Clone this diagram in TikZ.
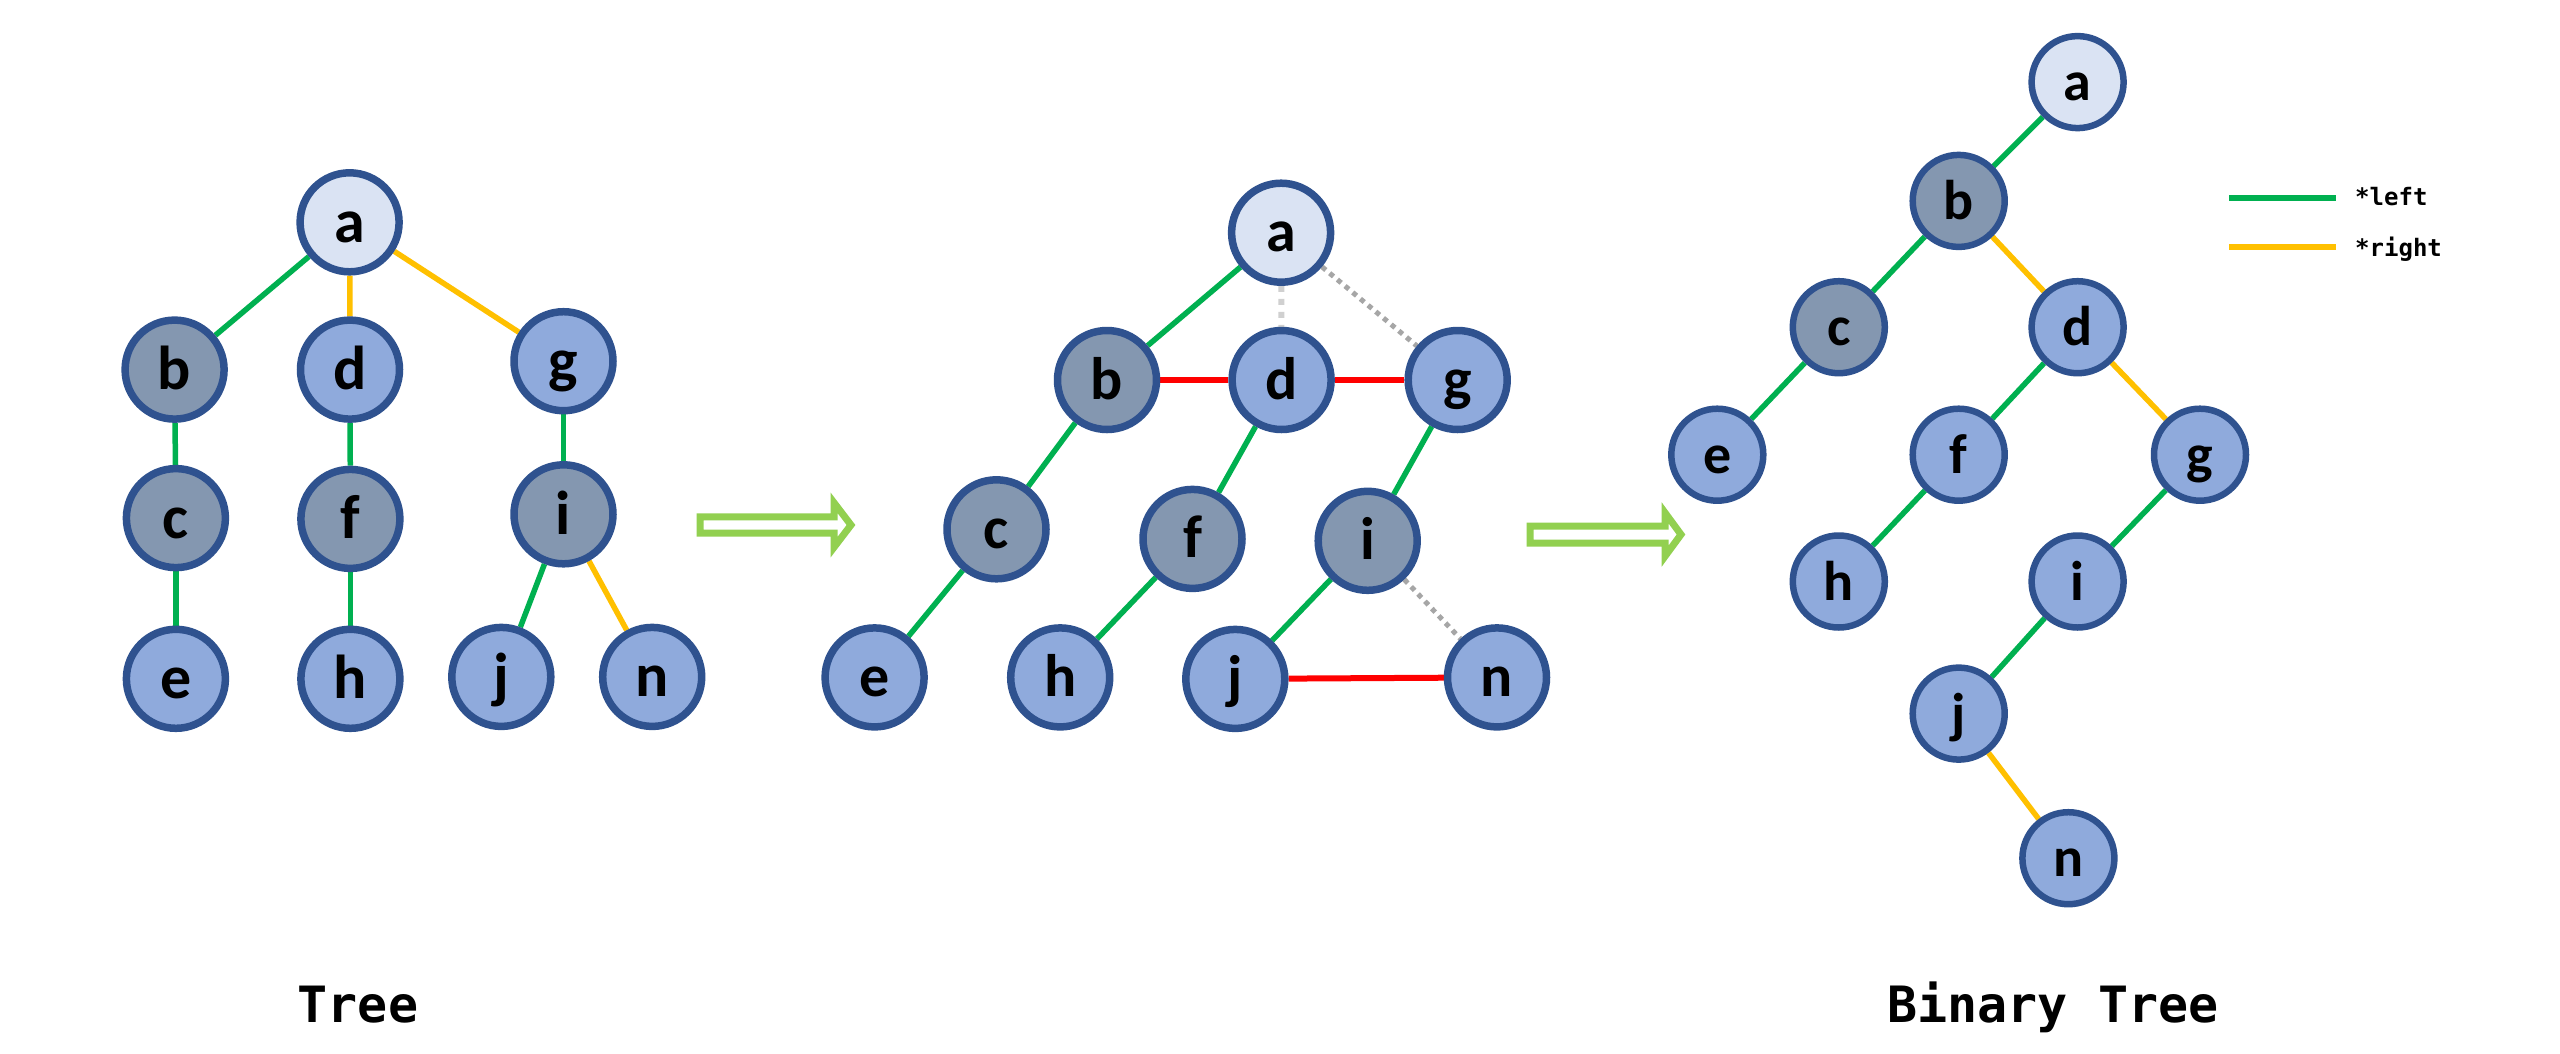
\documentclass[tikz,border=0pt]{standalone}
\usepackage{fontspec}
\newfontfamily\nodefont{Carlito}
\newfontfamily\labfont{DejaVu Sans Mono}
\usetikzlibrary{backgrounds}
\definecolor{bordc}{HTML}{2F528F}
\definecolor{lightc}{HTML}{DAE3F3}
\definecolor{bluec}{HTML}{8FAADC}
\definecolor{greyc}{HTML}{8497B0}
\definecolor{greenc}{HTML}{00B050}
\definecolor{yellowc}{HTML}{FFC000}
\definecolor{redc}{HTML}{FF0000}
\definecolor{arrowc}{HTML}{92D050}
\definecolor{dotc}{HTML}{A6A6A6}
\definecolor{dotlc}{HTML}{D0D0D0}
\tikzset{
  tnode/.style={circle, draw=bordc, line width=7.5pt, minimum size=99pt, inner sep=0pt,
    font=\nodefont\bfseries\fontsize{62}{64}\selectfont, text height=40pt, text depth=0pt},
  mnode/.style={tnode, font=\nodefont\bfseries\fontsize{60}{62}\selectfont, text height=38pt},
  rnode/.style={tnode, line width=6.5pt, minimum size=92pt,
    font=\nodefont\bfseries\fontsize{56}{58}\selectfont, text height=37pt},
  lt/.style={fill=lightc}, bl/.style={fill=bluec}, gr/.style={fill=greyc},
  le/.style={draw=greenc, line width=5.5pt},
  ri/.style={draw=yellowc, line width=5.5pt},
  rd/.style={draw=redc, line width=6pt},
  dt/.style={draw=dotc, line width=5pt, dash pattern=on 5pt off 5pt},
  dtl/.style={draw=dotlc, line width=6pt, dash pattern=on 6pt off 7pt},
  bigarrow/.style={draw=arrowc, fill=white, line width=7pt, line join=miter},
  title/.style={font=\labfont\bfseries\fontsize{50}{56}\selectfont, anchor=base, inner sep=0pt},
  legtext/.style={font=\labfont\bfseries\fontsize{24}{28}\selectfont, anchor=base west, inner sep=0pt}
}
\begin{document}
\begin{tikzpicture}[x=1pt,y=-1pt]
\useasboundingbox (0,0) rectangle (2560,1053);
% ---------- Tree ----------
\node[tnode,lt] (Aa) at (349.6,222.3) {a};
\node[tnode,gr] (Ab) at (174.6,369.6) {b};
\node[tnode,bl] (Ad) at (350,369.6) {d};
\node[tnode,bl] (Ag) at (563.5,361.2) {g};
\node[tnode,gr] (Ac) at (175.9,518.1) {c};
\node[tnode,gr] (Af) at (350.4,518.9) {f};
\node[tnode,gr] (Ai) at (563.5,514.3) {i};
\node[tnode,bl] (Ae) at (175.9,678.8) {e};
\node[tnode,bl] (Ah) at (350.4,678.8) {h};
\node[tnode,bl] (Aj) at (501.3,676.9) {j};
\node[tnode,bl] (An) at (652.2,676.9) {n};
% ---------- Middle ----------
\node[mnode,lt] (Ba) at (1281.1,232.7) {a};
\node[mnode,gr] (Bb) at (1107,380) {b};
\node[mnode,bl] (Bd) at (1281.6,380) {d};
\node[mnode,bl] (Bg) at (1457.7,380) {g};
\node[mnode,gr] (Bc) at (996.5,529.3) {c};
\node[mnode,gr] (Bf) at (1192.5,538.9) {f};
\node[mnode,gr] (Bi) at (1367.7,540.8) {i};
\node[mnode,bl] (Be) at (874.6,677.4) {e};
\node[mnode,bl] (Bh) at (1060.2,677.4) {h};
\node[mnode,bl] (Bj) at (1235.3,678.9) {j};
\node[mnode,bl] (Bn) at (1497,677.4) {n};
% ---------- Binary tree ----------
\node[rnode,lt] (Ca) at (2077.6,82.1) {a};
\node[rnode,gr] (Cb) at (1958.7,200.9) {b};
\node[rnode,gr] (Cc) at (1838.8,327.2) {c};
\node[rnode,bl] (Cd) at (2077.6,327.2) {d};
\node[rnode,bl] (Ce) at (1717.3,454.7) {e};
\node[rnode,bl] (Cf) at (1958.7,454.7) {f};
\node[rnode,bl] (Cg) at (2200,454.7) {g};
\node[rnode,bl] (Ch) at (1838.8,581.5) {h};
\node[rnode,bl] (Ci) at (2077.6,581.5) {i};
\node[rnode,bl] (Cj) at (1958.7,713.6) {j};
\node[rnode,bl] (Cn) at (2068.4,858.2) {n};
% ---------- labels ----------
\node[title] (t1) at (358,1022.7) {Tree};
\node[title] (t2) at (2053,1022.7) {Binary Tree};
\coordinate (lg1) at (2229.3,198.3);
\coordinate (lg2) at (2336,198.3);
\coordinate (ly1) at (2229.3,247.3);
\coordinate (ly2) at (2336,247.3);
\node[legtext] (lt1) at (2355,205) {*left};
\node[legtext] (lt2) at (2355,256.5) {*right};
\begin{scope}[on background layer]
\fill[white] (0,0) rectangle (2560,1053);
% tree edges
\draw[le] (Aa) -- (Ab);
\draw[ri] (Aa) -- (Ad);
\draw[ri] (Aa) -- (Ag);
\draw[le] (Ab) -- (Ac);
\draw[le] (Ac) -- (Ae);
\draw[le] (Ad) -- (Af);
\draw[le] (Af) -- (Ah);
\draw[le] (Ag) -- (Ai);
\draw[le] (Ai) -- (Aj);
\draw[ri] (Ai) -- (An);
% middle edges
\draw[le] (Ba) -- (Bb);
\draw[dtl] (Ba) -- (Bd);
\draw[dt] (Ba) -- (Bg);
\draw[rd] (Bb) -- (Bd);
\draw[rd] (Bd) -- (Bg);
\draw[le] (Bb) -- (Bc);
\draw[le] (Bc) -- (Be);
\draw[le] (Bd) -- (Bf);
\draw[le] (Bf) -- (Bh);
\draw[le] (Bg) -- (Bi);
\draw[le] (Bi) -- (Bj);
\draw[dt] (Bi) -- (Bn);
\draw[rd] (Bj) -- (Bn);
% binary tree edges
\draw[le] (Ca) -- (Cb);
\draw[le] (Cb) -- (Cc);
\draw[ri] (Cb) -- (Cd);
\draw[le] (Cc) -- (Ce);
\draw[le] (Cd) -- (Cf);
\draw[ri] (Cd) -- (Cg);
\draw[le] (Cf) -- (Ch);
\draw[le] (Cg) -- (Ci);
\draw[le] (Ci) -- (Cj);
\draw[ri] (Cj) -- (Cn);
% legend
\draw[draw=greenc, line width=6pt] (lg1) -- (lg2);
\draw[draw=yellowc, line width=6pt] (ly1) -- (ly2);
\end{scope}
% arrows
\draw[bigarrow] (700.2,516.8) -- (834.2,516.8) -- (834.2,503) -- (851,525) -- (834.2,547) -- (834.2,533.2) -- (700.2,533.2) -- cycle;
\draw[bigarrow] (1530.2,526.2) -- (1665.2,526.2) -- (1665.2,513) -- (1681,534.5) -- (1665.2,556) -- (1665.2,543.2) -- (1530.2,543.2) -- cycle;
\end{tikzpicture}
\end{document}
